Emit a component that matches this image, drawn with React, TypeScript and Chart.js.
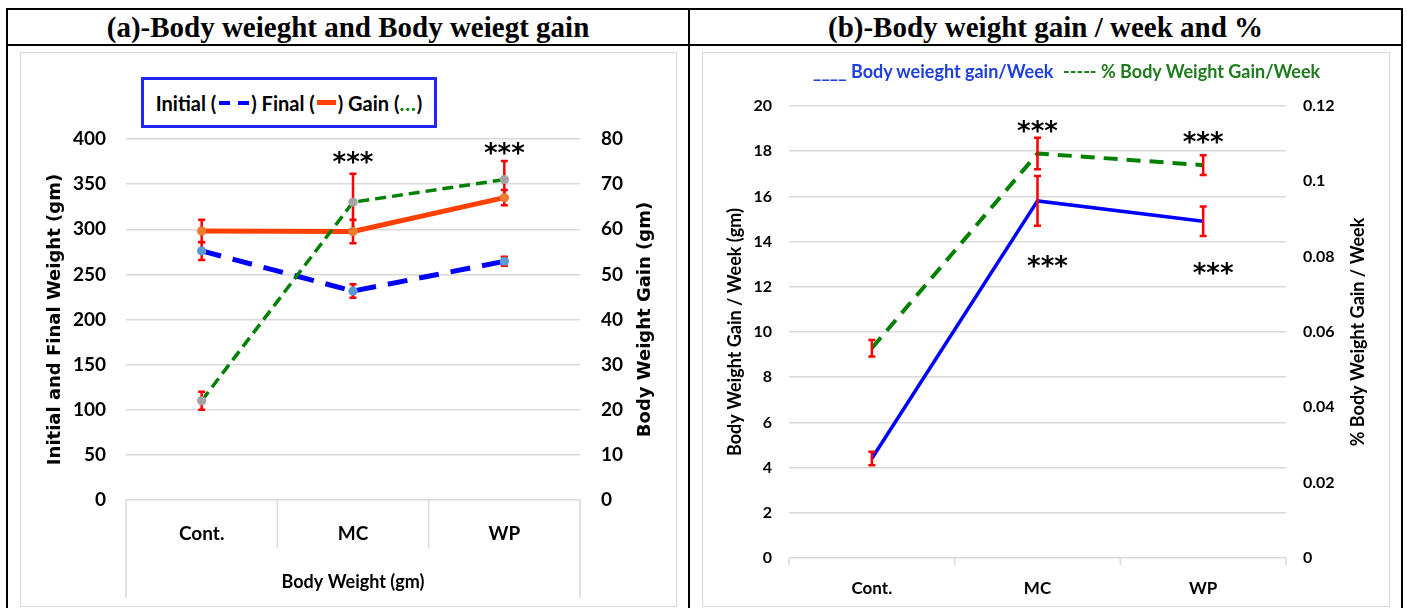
import React, { useEffect, useRef } from "react";
import { Chart, registerables } from "chart.js";

Chart.register(...registerables);

// ---------- shared ----------
const categories = ["Cont.", "MC", "WP"];

// ---------- chart (a): body weight & gain ----------
const initialWeight = [276, 231.5, 264.5];
const initialErr = [10, 7.5, 5];
const finalWeight = [298, 297.5, 335];
const finalErr = [12.5, 13, 8.5];
const weightGain = [22, 66, 71];
const gainErr = [2, 6.3, 4.1];
const aLeftTicks = [0, 50, 100, 150, 200, 250, 300, 350, 400];
const aRightTicks = [0, 10, 20, 30, 40, 50, 60, 70, 80];
const aStarValues = [null, 379, 390]; // left-axis value where "***" sits

// ---------- chart (b): gain per week & % ----------
const gainPerWeek = [4.4, 15.8, 14.9];
const gainPerWeekErr = [0.3, 1.1, 0.65];
const pctGainPerWeek = [0.0557, 0.1074, 0.1043];
const pctGainErr = [0.0022, 0.0042, 0.0026];
const bLeftTicks = [0, 2, 4, 6, 8, 10, 12, 14, 16, 18, 20];
const bRightTicks = [0, 0.02, 0.04, 0.06, 0.08, 0.1, 0.12];
const bRightTickLabels = ["0", "0.02", "0.04", "0.06", "0.08", "0.1", "0.12"];
const bStarsAbove = [null, 19.1, 18.6];
const bStarsBelow = [null, 13.1, 12.8];

const GRID = "#D9D9D9";
const LATO = "Lato, 'Open Sans', sans-serif";
const STAR_FONT = "bold 26px 'DejaVu Sans'";

function drawRotated(ctx: CanvasRenderingContext2D, text: string, x: number, y: number, font: string, color: string) {
  ctx.save();
  ctx.translate(x, y);
  ctx.rotate(-Math.PI / 2);
  ctx.font = font;
  ctx.fillStyle = color;
  ctx.textAlign = "center";
  ctx.textBaseline = "middle";
  ctx.fillText(text, 0, 0);
  ctx.restore();
}

const errorBarPlugin = {
  id: "errorBars",
  afterDatasetsDraw(chart: any, _args: any, opts: any) {
    const ctx = chart.ctx;
    chart.data.datasets.forEach((ds: any, i: number) => {
      const errs = ds.errors;
      if (!errs) return;
      const meta = chart.getDatasetMeta(i);
      const ys = chart.scales[meta.yAxisID];
      ctx.save();
      ctx.strokeStyle = "#FF0000";
      ctx.lineWidth = opts.width || 2.5;
      const cap = opts.cap || 3.5;
      meta.data.forEach((pt: any, j: number) => {
        const v = ds.data[j];
        const e = errs[j];
        const x = pt.x;
        const y1 = ys.getPixelForValue(v + e);
        const y2 = ys.getPixelForValue(v - e);
        ctx.beginPath();
        ctx.moveTo(x, y1);
        ctx.lineTo(x, y2);
        ctx.moveTo(x - cap, y1);
        ctx.lineTo(x + cap, y1);
        ctx.moveTo(x - cap, y2);
        ctx.lineTo(x + cap, y2);
        ctx.stroke();
      });
      ctx.restore();
    });
    if (opts.redrawPoints) {
      chart.data.datasets.forEach((_ds: any, i: number) => {
        const meta = chart.getDatasetMeta(i);
        meta.data.forEach((p: any) => p.draw(ctx, chart.chartArea));
      });
    }
  },
};

const decorPlugin = {
  id: "decor",
  afterDraw(chart: any, _args: any, opts: any) {
    const ctx = chart.ctx;
    const ca = chart.chartArea;
    const xs = chart.scales.x;
    const midY = (ca.top + ca.bottom) / 2;
    (opts.titles || []).forEach((t: any) => {
      const x = t.side === "left" ? ca.left - t.dx : ca.right + t.dx;
      drawRotated(ctx, t.text, x, midY + (t.dy || 0), t.font, t.color || "#000");
    });
    if (opts.separators) {
      const s = opts.separators;
      ctx.save();
      ctx.strokeStyle = GRID;
      ctx.lineWidth = 1.5;
      const n = categories.length;
      const w = (ca.right - ca.left) / n;
      for (let k = 0; k <= n; k++) {
        const x = ca.left + k * w;
        const len = k === 0 || k === n ? s.outer : s.inner;
        ctx.beginPath();
        ctx.moveTo(x, ca.bottom);
        ctx.lineTo(x, ca.bottom + len);
        ctx.stroke();
      }
      ctx.restore();
    }
    if (opts.xTitle) {
      ctx.save();
      ctx.font = opts.xTitle.font;
      ctx.fillStyle = "#000";
      ctx.textAlign = "center";
      ctx.textBaseline = "middle";
      ctx.fillText(opts.xTitle.text, (ca.left + ca.right) / 2, ca.bottom + opts.xTitle.dy);
      ctx.restore();
    }
    (opts.stars || []).forEach((st: any) => {
      const ys = chart.scales[st.axis];
      ctx.save();
      ctx.font = st.font;
      ctx.fillStyle = "#000";
      ctx.textAlign = "center";
      ctx.textBaseline = "alphabetic";
      try { (ctx as any).letterSpacing = st.spacing || "0px"; } catch (e) {}
      const m = ctx.measureText("***");
      const shift = (m.actualBoundingBoxAscent - m.actualBoundingBoxDescent) / 2;
      st.values.forEach((v: number | null, j: number) => {
        if (v === null) return;
        ctx.fillText("***", xs.getPixelForValue(j) + (st.dx || 0), ys.getPixelForValue(v) + shift);
      });
      ctx.restore();
    });
  },
};

function tickSetter(values: number[]) {
  return (s: any) => {
    s.ticks = values.map((v) => ({ value: v }));
  };
}

function ChartA() {
  const ref = useRef<HTMLCanvasElement>(null);
  useEffect(() => {
    const tickFont = { family: LATO, weight: "bold" as const, size: 19 };
    const pt = { pointRadius: 4.5, pointBorderWidth: 0 };
    const chart = new Chart(ref.current!, {
      type: "line",
      data: {
        labels: categories,
        datasets: [
          {
            label: "Gain",
            data: weightGain,
            errors: gainErr,
            yAxisID: "y1",
            borderColor: "#008000",
            borderWidth: 3.5,
            borderDash: [11, 6],
            ...pt,
            pointBackgroundColor: "#A5A5A5",
            order: 0,
          } as any,
          {
            label: "Final",
            data: finalWeight,
            errors: finalErr,
            yAxisID: "y",
            borderColor: "#FF4000",
            borderWidth: 5,
            ...pt,
            pointBackgroundColor: "#ED7D31",
            order: 1,
          } as any,
          {
            label: "Initial",
            data: initialWeight,
            errors: initialErr,
            yAxisID: "y",
            borderColor: "#0000FF",
            borderWidth: 5,
            borderDash: [20, 12],
            ...pt,
            pointBackgroundColor: "#5B9BD5",
            order: 2,
          } as any,
        ],
      },
      options: {
        animation: false,
        responsive: true,
        maintainAspectRatio: false,
        layout: { padding: { top: 87, left: 0, right: 0, bottom: 0 } },
        plugins: {
          legend: { display: false },
          tooltip: { enabled: false },
          errorBars: { width: 2.5, cap: 3.5, redrawPoints: true },
          decor: {
            titles: [
              { side: "left", dx: 71, text: "Initial and Final Weight (gm)", font: "bold 18px 'DejaVu Sans'" },
              { side: "right", dx: 65, text: "Body Weight Gain (gm)", font: "bold 18px 'DejaVu Sans'" },
            ],
            separators: { inner: 48, outer: 98 },
            xTitle: { text: "Body Weight (gm)", dy: 82, font: `bold 18px ${LATO}` },
            stars: [{ axis: "y", values: aStarValues, font: STAR_FONT, spacing: "0px" }],
          },
        } as any,
        scales: {
          x: {
            type: "category",
            offset: true,
            grid: { display: false, drawTicks: false },
            border: { display: false },
            ticks: { font: tickFont, color: "#000", padding: 22 },
            afterFit: (s: any) => { s.height = 106; },
          },
          y: {
            position: "left",
            min: 0,
            max: 400,
            afterBuildTicks: tickSetter(aLeftTicks),
            grid: { color: GRID, lineWidth: 1.5, drawTicks: false },
            border: { display: false },
            ticks: { font: tickFont, color: "#000", padding: 20 },
            afterFit: (s: any) => { s.width = 106; },
          },
          y1: {
            position: "right",
            min: 0,
            max: 80,
            afterBuildTicks: tickSetter(aRightTicks),
            grid: { display: false, drawTicks: false },
            border: { display: false },
            ticks: { font: tickFont, color: "#000", padding: 21 },
            afterFit: (s: any) => { s.width = 96; },
          },
        },
      },
      plugins: [errorBarPlugin, decorPlugin],
    });
    return () => chart.destroy();
  }, []);
  return <canvas ref={ref} />;
}

function ChartB() {
  const ref = useRef<HTMLCanvasElement>(null);
  useEffect(() => {
    const tickFont = { family: LATO, weight: "bold" as const, size: 16 };
    const chart = new Chart(ref.current!, {
      type: "line",
      data: {
        labels: categories,
        datasets: [
          {
            label: "Body weieght gain/Week",
            data: gainPerWeek,
            errors: gainPerWeekErr,
            yAxisID: "y",
            borderColor: "#0000FF",
            borderWidth: 3.5,
            pointRadius: 0,
            order: 0,
          } as any,
          {
            label: "% Body Weight Gain/Week",
            data: pctGainPerWeek,
            errors: pctGainErr,
            yAxisID: "y1",
            borderColor: "#008000",
            borderWidth: 4,
            borderDash: [14, 9],
            pointRadius: 0,
            order: 1,
          } as any,
        ],
      },
      options: {
        animation: false,
        responsive: true,
        maintainAspectRatio: false,
        layout: { padding: { top: 54, left: 0, right: 0, bottom: 0 } },
        plugins: {
          legend: { display: false },
          tooltip: { enabled: false },
          errorBars: { width: 2.5, cap: 3.5 },
          decor: {
            titles: [
              { side: "left", dx: 54, dy: 0, text: "Body Weight Gain / Week (gm)", font: `bold 18px ${LATO}` },
              { side: "right", dx: 72, text: "% Body Weight Gain / Week", font: `bold 18px ${LATO}` },
            ],
            separators: { inner: 7, outer: 7 },
            stars: [
              { axis: "y", values: bStarsAbove, font: STAR_FONT },
              { axis: "y", values: bStarsBelow, font: STAR_FONT, dx: 10 },
            ],
          },
        } as any,
        scales: {
          x: {
            type: "category",
            offset: true,
            grid: { display: false, drawTicks: false },
            border: { display: false },
            ticks: { font: { ...tickFont, size: 17 }, color: "#000", padding: 20 },
            afterFit: (s: any) => { s.height = 48; },
          },
          y: {
            position: "left",
            min: 0,
            max: 20,
            afterBuildTicks: tickSetter(bLeftTicks),
            grid: { color: GRID, lineWidth: 1.5, drawTicks: false },
            border: { display: false },
            ticks: { font: tickFont, color: "#000", padding: 17 },
            afterFit: (s: any) => { s.width = 87; },
          },
          y1: {
            position: "right",
            min: 0,
            max: 0.12,
            afterBuildTicks: tickSetter(bRightTicks),
            grid: { display: false, drawTicks: false },
            border: { display: false },
            ticks: {
              font: tickFont,
              color: "#000",
              padding: 17,
              callback: (_v: any, i: number) => bRightTickLabels[i],
            },
            afterFit: (s: any) => { s.width = 103; },
          },
        },
      },
      plugins: [errorBarPlugin, decorPlugin],
    });
    return () => chart.destroy();
  }, []);
  return <canvas ref={ref} />;
}

const abs = (l: number, t: number, w: number, h: number, extra: React.CSSProperties = {}): React.CSSProperties => ({
  position: "absolute",
  left: l,
  top: t,
  width: w,
  height: h,
  ...extra,
});

export default function App() {
  const headerFont: React.CSSProperties = {
    fontFamily: "'Liberation Serif', 'Times New Roman', serif",
    fontWeight: "bold",
    fontSize: 29,
    color: "#000",
    display: "flex",
    alignItems: "center",
    justifyContent: "center",
    whiteSpace: "nowrap",
  };
  return (
    <div style={abs(0, 0, 1407, 608, { background: "#fff", overflow: "hidden" })}>
      {/* table lines */}
      <div style={abs(6, 8, 1397, 2, { background: "#000" })} />
      <div style={abs(6, 44, 1397, 2, { background: "#000" })} />
      <div style={abs(6, 8, 2, 600, { background: "#000" })} />
      <div style={abs(688, 8, 2, 600, { background: "#000" })} />
      <div style={abs(1401, 8, 2, 600, { background: "#000" })} />
      {/* headers */}
      <div style={abs(8, 10, 680, 34, headerFont)}>(a)-Body weieght and Body weiegt gain</div>
      <div style={abs(690, 10, 711, 34, headerFont)}>(b)-Body weight gain / week and %</div>

      {/* panel (a) */}
      <div style={abs(20, 52, 657, 555, { border: `1px solid ${GRID}`, boxSizing: "border-box" })} />
      <div style={abs(20, 52, 656, 554)}>
        <ChartA />
      </div>
      <div
        style={abs(141, 77, 296, 51, {
          border: "3px solid #2424FF",
          boxSizing: "border-box",
          background: "#fff",
          display: "flex",
          alignItems: "center",
          justifyContent: "center",
          fontFamily: LATO,
          fontWeight: "bold",
          fontSize: 20,
          color: "#000",
          whiteSpace: "nowrap",
        })}
      >
        <span>Initial (</span>
        <span style={{ display: "inline-block", width: 11, height: 4, background: "#0000FF", margin: "0 4px 0 3px" }} />
        <span style={{ display: "inline-block", width: 11, height: 4, background: "#0000FF", margin: "0 2px 0 4px" }} />
        <span>) Final (</span>
        <span style={{ display: "inline-block", width: 19, height: 5, background: "#FF4000", margin: "0 2px" }} />
        <span>) Gain (</span>
        <span style={{ color: "#008000", letterSpacing: 1 }}>...</span>
        <span>)</span>
      </div>

      {/* panel (b) */}
      <div style={abs(702, 52, 688, 555, { border: `1px solid ${GRID}`, boxSizing: "border-box" })} />
      <div style={abs(702, 52, 687, 554)}>
        <ChartB />
      </div>
      <div style={abs(813, 58, 250, 26, { fontFamily: LATO, fontWeight: "bold", fontSize: 18, color: "#1F3FDB", whiteSpace: "nowrap", lineHeight: "26px" })}>
        ____ Body weieght gain/Week
      </div>
      <div style={abs(1063, 58, 270, 26, { fontFamily: LATO, fontWeight: "bold", fontSize: 18, color: "#1E7B1E", whiteSpace: "nowrap", lineHeight: "26px" })}>
        ----- % Body Weight Gain/Week
      </div>
    </div>
  );
}
